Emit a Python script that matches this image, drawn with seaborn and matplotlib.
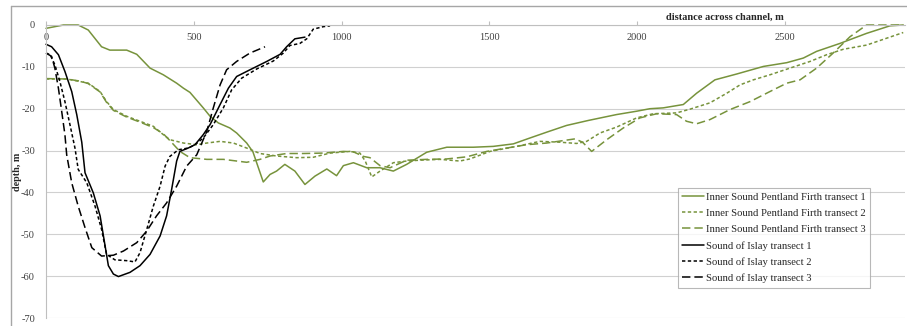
import matplotlib
matplotlib.use("Agg")
import matplotlib.pyplot as plt
import seaborn as sns
import pandas as pd
from matplotlib.lines import Line2D

# ---------------- data ----------------
is1_x = [0, 59, 109, 143, 188, 216, 273, 307, 352, 397, 442, 465, 487, 532, 555, 583, 622, 645, 679, 700,
         735, 758, 780, 808, 842, 876, 910, 950, 983, 1006, 1040, 1085, 1130, 1175, 1220, 1288, 1356, 1446,
         1513, 1581, 1637, 1694, 1761, 1835, 1930, 1998, 2043, 2088, 2156, 2201, 2263, 2337, 2427, 2506,
         2562, 2607, 2686, 2776, 2855, 2900]
is1_y = [-0.8, 0, 0, -1.2, -5.2, -6, -6, -7, -10.3, -11.9, -13.9, -15.1, -16.1, -19.8, -21.8, -23.4, -24.6,
         -25.8, -28.2, -30.3, -37.5, -35.7, -34.9, -33.3, -34.9, -38.1, -36.1, -34.4, -36, -33.6, -32.9, -34.1,
         -34.1, -34.9, -33.3, -30.4, -29.2, -29.2, -29, -28.4, -27, -25.6, -24, -22.8, -21.4, -20.6, -20,
         -19.8, -19, -16.3, -13.1, -11.7, -9.9, -9, -7.9, -6.3, -4.4, -2, -0.2, 0]

is2_x = [0, 70, 115, 143, 183, 205, 228, 273, 318, 363, 397, 419, 465, 510, 544, 589, 634, 679, 724, 780,
         848, 904, 961, 1028, 1062, 1080, 1102, 1130, 1175, 1220, 1265, 1333, 1400, 1434, 1502, 1592, 1671,
         1739, 1795, 1829, 1874, 1930, 1998, 2054, 2133, 2179, 2246, 2303, 2348, 2393, 2449, 2517, 2585,
         2641, 2697, 2776, 2900]
is2_y = [-12.9, -12.9, -13.5, -13.9, -15.9, -18.3, -20.2, -21.8, -23, -24.2, -26.2, -27.4, -28.2, -28.6,
         -28.2, -27.8, -28.2, -29.4, -30.7, -31.3, -31.7, -31.6, -30.6, -30.2, -30.6, -32.5, -36.3, -34.9,
         -32.9, -32.5, -32.3, -32.1, -32.5, -32, -30.2, -29, -27.8, -28, -28.3, -27.8, -25.8, -24.4, -22.2,
         -21.2, -21, -20.1, -18.6, -16.3, -14.3, -13.1, -11.9, -10.3, -8.7, -7.1, -5.8, -4.8, -1.8]

is3_x = [0, 70, 115, 143, 183, 205, 228, 273, 318, 363, 397, 419, 453, 487, 544, 600, 679, 724, 758, 814,
         870, 938, 1006, 1040, 1074, 1096, 1130, 1164, 1220, 1288, 1356, 1423, 1491, 1558, 1626, 1694, 1761,
         1790, 1815, 1846, 1897, 1953, 2009, 2066, 2133, 2167, 2201, 2246, 2314, 2382, 2449, 2506, 2551,
         2607, 2663, 2720, 2776, 2900]
is3_y = [-12.8, -12.9, -13.4, -14.0, -16.0, -18.5, -20.4, -22.0, -23.2, -24.5, -26.0, -27.6, -30.2, -31.7,
         -32.1, -32.1, -32.8, -32.1, -31.3, -30.7, -30.7, -30.6, -30.2, -30.3, -31.4, -31.7, -33.6, -34.1,
         -32.3, -32.1, -32, -31.5, -30.2, -29.4, -28.6, -28.2, -27.5, -27.2, -28, -30.2, -27.4, -24.6, -22.2,
         -21.2, -21.4, -23, -23.6, -22.6, -20.2, -18.3, -15.9, -13.9, -13.1, -10.3, -6.7, -2.8, 0, 0]

si1_x = [0, 19, 42, 64, 87, 104, 121, 132, 160, 183, 200, 211, 228, 245, 284, 318, 352, 386, 408, 425, 442,
         453, 481, 504, 532, 555, 589, 617, 645, 690, 747, 792, 814, 842, 876]
si1_y = [-4.6, -5.2, -7.1, -11.1, -15.9, -21.4, -28, -35.3, -40.1, -45.6, -52.8, -57.5, -59.5, -60.1, -59.1,
         -57.5, -54.8, -50.4, -45.6, -39.3, -32.5, -30.2, -29.4, -28.6, -26.2, -23.8, -19, -15.1, -12.3,
         -10.7, -8.7, -7, -5.2, -3.3, -2.9]

si2_x = [0, 14, 30, 47, 64, 81, 98, 109, 138, 166, 188, 205, 233, 273, 301, 318, 341, 363, 386, 403, 419,
         448, 481, 504, 532, 566, 600, 628, 662, 713, 769, 803, 825, 859, 882, 904, 938, 961]
si2_y = [-6.7, -7.1, -9.5, -13.5, -18.3, -23.8, -29.4, -34.5, -37.7, -43.3, -48.8, -54.8, -56.1, -56.3,
         -56.6, -54.4, -48.8, -43.3, -38.5, -33.7, -31.4, -29.8, -29.4, -28.6, -27, -23.8, -19.8, -15.5,
         -12.7, -10.5, -8.6, -6.7, -4.9, -4.4, -3.3, -1, -0.4, -0.2]

si3_x = [0, 19, 30, 42, 53, 64, 70, 87, 109, 132, 155, 188, 228, 262, 307, 341, 374, 408, 442, 476, 510,
         544, 566, 589, 611, 645, 690, 741]
si3_y = [-6.7, -7.5, -10.3, -15.1, -20.6, -26.2, -31, -37.7, -43.3, -48.4, -53.2, -55.2, -55, -54, -52,
         -49.2, -45.6, -42.5, -38.5, -33.7, -31, -25.4, -19.8, -14.3, -10.7, -8.7, -6.7, -5.2]

labels = ["Inner Sound Pentland Firth transect 1", "Inner Sound Pentland Firth transect 2",
          "Inner Sound Pentland Firth transect 3", "Sound of Islay transect 1",
          "Sound of Islay transect 2", "Sound of Islay transect 3"]
x_ticks = [0, 500, 1000, 1500, 2000, 2500]
y_ticks = [0, -10, -20, -30, -40, -50, -60, -70]
x_label = "distance across channel, m"
y_label = "depth, m"

# ---------------- style ----------------
sns.set_style("white")
plt.rcParams["font.family"] = ["Liberation Serif", "DejaVu Serif"]

GREEN = "#77933C"
BLACK = "#000000"
short = (0, (2.2, 1.6))
long_ = (0, (5.5, 2.6))

series = [
    (is1_x, is1_y, GREEN, "-"),
    (is2_x, is2_y, GREEN, short),
    (is3_x, is3_y, GREEN, long_),
    (si1_x, si1_y, BLACK, "-"),
    (si2_x, si2_y, BLACK, short),
    (si3_x, si3_y, BLACK, long_),
]

fig = plt.figure(figsize=(9.07, 3.26), dpi=100)
ax = fig.add_axes([46 / 907, 8 / 326, 859 / 907, 293 / 326])

for (xs, ys, col, ls), lab in zip(series, labels):
    df = pd.DataFrame({"x": xs, "y": ys})
    sns.lineplot(data=df, x="x", y="y", ax=ax, color=col, linestyle=ls, linewidth=1.1,
                 label=lab, estimator=None, sort=False, legend=True)

for ln in ax.get_lines():
    ln.set_clip_on(False)

ax.set_xlim(0, 2906)
ax.set_ylim(-70, 0)
ax.set_xticks(x_ticks)
ax.set_yticks(y_ticks)
ax.set_yticklabels([str(v) for v in y_ticks])
ax.set_xticklabels([str(v) for v in x_ticks])

ax.grid(axis="y", color="#d0d0d0", linewidth=0.8)
ax.set_axisbelow(True)

for s in ["top", "right"]:
    ax.spines[s].set_visible(False)
ax.spines["bottom"].set_position(("data", 0))
ax.spines["bottom"].set_color("#bfbfbf")
ax.spines["bottom"].set_linewidth(0.8)
ax.spines["left"].set_color("#bfbfbf")
ax.spines["left"].set_linewidth(0.8)

ax.tick_params(axis="x", direction="in", length=3, color="#bfbfbf", pad=6,
               labelsize=7.5, labelcolor="#404040")
ax.tick_params(axis="y", direction="out", length=3, color="#bfbfbf", pad=5,
               labelsize=7.5, labelcolor="#404040")
ax.tick_params(axis="x", bottom=True)

ax.set_xlabel("")
ax.set_ylabel(y_label, fontsize=7.3, fontweight="bold", color="#262626")
ax.yaxis.set_label_coords(-0.028, 0.5)
ax.text(0.79, 1.027, x_label, transform=ax.transAxes, ha="center", va="center",
        fontsize=7.5, fontweight="bold", color="#262626")

leg = ax.legend(loc="upper left", bbox_to_anchor=(0.7357, 0.4437), borderaxespad=0,
                fontsize=7.7, frameon=True, fancybox=False, edgecolor="#a6a6a6",
                handlelength=2.0, handletextpad=0.2, labelspacing=0.62,
                borderpad=0.42)
leg.get_frame().set_linewidth(0.8)
for t in leg.get_texts():
    t.set_color("#262626")

# outer chart frame
fig.add_artist(Line2D([11 / 907, 1.0], [1 - 6 / 326, 1 - 6 / 326], color="#a6a6a6", linewidth=1.0))
fig.add_artist(Line2D([11 / 907, 11 / 907], [0, 1 - 6 / 326], color="#a6a6a6", linewidth=1.0))

fig.savefig("out.png", dpi=100)
